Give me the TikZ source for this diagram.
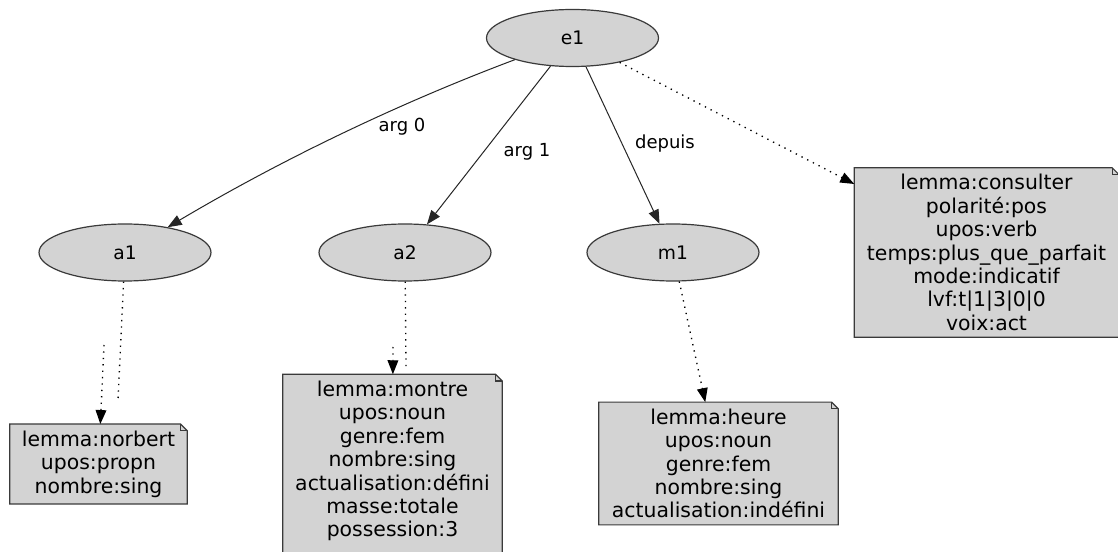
\documentclass[tikz,border=0pt]{standalone}
\usepackage{fontspec}
\setmainfont{DejaVu Sans}
\usetikzlibrary{arrows.meta,shapes.geometric,backgrounds}
\definecolor{gvgray}{HTML}{D3D3D3}
\definecolor{gvline}{HTML}{3A3A3A}
\newcommand\gvnote[2]{%
  \filldraw[notedraw] ([yshift=-#2]#1.south west) -- (#1.north west) -- ([xshift=-5pt]#1.north east) -- ([yshift=-5pt]#1.north east) -- ([yshift=-#2]#1.south east) -- cycle;
  \draw[notedraw, fill=none] ([xshift=-5pt]#1.north east) -- ([xshift=-5pt,yshift=-5pt]#1.north east) -- ([yshift=-5pt]#1.north east);}
\begin{document}
\begin{tikzpicture}[x=0.75pt,y=-0.75pt,
  ell/.style={ellipse, draw=gvline, fill=gvgray, line width=0.9pt, minimum width=129pt, minimum height=42.75pt, inner sep=0pt, font=\fontsize{14}{16}\selectfont},
  notebox/.style={rectangle, inner xsep=0pt, inner ysep=4.8pt, align=center, font=\fontsize{15.3}{17.55}\selectfont},
  notedraw/.style={draw=gvline, fill=gvgray, line width=0.9pt},
  arr/.style={draw=black!85, line width=0.75pt, -{Triangle[length=10.5pt,width=8pt]}},
  dotarr/.style={draw=black, line width=1pt, dash pattern=on 1pt off 3.8pt, -{Triangle[length=10.5pt,width=8pt]}},
  dotline/.style={draw=black, line width=1pt, dash pattern=on 1pt off 3.8pt},
  lbl/.style={font=\fontsize{13.5}{16}\selectfont, inner sep=0pt}]
\useasboundingbox (0,0) rectangle (1118,552);

% ellipses
\node[ell] (e1) at (572.5,38) {e1};
\node[ell] (a1) at (125,252.5) {a1};
\node[ell] (a2) at (405,252.5) {a2};
\node[ell] (m1) at (673,252.5) {m1};

% notes
\node[notebox, minimum width=132.75pt] (n1) at (98.5,464) {lemma:norbert\\upos:propn\\nombre:sing};
\node[notebox, minimum width=164.25pt] (n2) at (392.5,461) {lemma:montre\\upos:noun\\genre:fem\\nombre:sing\\actualisation:défini\\masse:totale\\possession:3};
\node[notebox, minimum width=179.25pt] (n3) at (718.5,463.5) {lemma:heure\\upos:noun\\genre:fem\\nombre:sing\\actualisation:indéfini};
\node[notebox, minimum width=198pt] (n4) at (986.5,252.5) {lemma:consulter\\polarité:pos\\upos:verb\\temps:plus\_que\_parfait\\mode:indicatif\\lvf:t|1|3|0|0\\voix:act};

\begin{scope}[on background layer]
  \fill[white] (0,0) rectangle (1118,552);
  \gvnote{n1}{0pt}
  \gvnote{n2}{12pt}
  \gvnote{n3}{0pt}
  \gvnote{n4}{0pt}
\end{scope}

% edges
\draw[arr] (e1) .. controls (397,104) and (281,160) .. (a1);
\draw[arr] (e1) -- (a2);
\draw[arr] (e1) -- (m1);
\draw[dotarr] (e1) -- (n4);

\coordinate (c1a) at (118,400);
\coordinate (c1b) at (104,345);
\draw[dotline] (a1) -- (c1a);
\draw[dotarr] (c1b) -- (n1);

\coordinate (c2a) at (406,368);
\coordinate (c2b) at (393,347);
\draw[dotline] (a2) -- (c2a);
\draw[dotarr] (c2b) -- (n2);

\draw[dotarr] (m1) -- (n3);

% edge labels
\node[lbl] (l0) at (402,127) {arg 0};
\node[lbl] (l1) at (527,152) {arg 1};
\node[lbl] (l2) at (665,144) {depuis};
\end{tikzpicture}
\end{document}
